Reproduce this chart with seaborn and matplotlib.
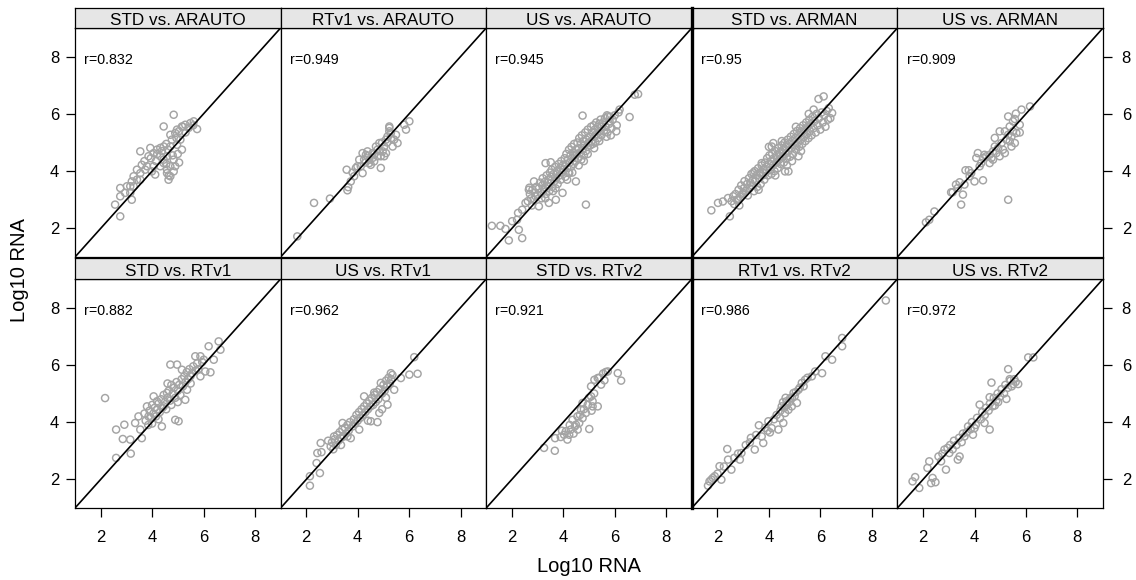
import numpy as np
import pandas as pd
import matplotlib
matplotlib.use("Agg")
import matplotlib.pyplot as plt
import seaborn as sns

sns.set_style("white")
plt.rcParams["font.family"] = ["Liberation Sans", "DejaVu Sans"]
plt.rcParams["text.color"] = "black"
plt.rcParams["xtick.color"] = "black"
plt.rcParams["ytick.color"] = "black"
plt.rcParams["xtick.labelcolor"] = "black"
plt.rcParams["ytick.labelcolor"] = "black"

# ---- data: (x, y) pairs of log10 RNA for each method comparison ----
STD_ARAUTO = [
    (4.84, 5.97), (4.45, 5.56), (5.29, 5.62), (5.49, 5.68), (5.62, 5.74), (5.75, 5.47),
    (5.42, 5.51), (5.16, 5.56), (4.97, 5.45), (4.90, 5.33), (4.71, 5.27), (4.77, 5.10),
    (5.10, 5.10), (4.97, 4.92), (5.16, 4.75), (4.71, 4.86), (4.45, 4.86), (4.32, 4.81),
    (4.19, 4.75), (4.06, 4.63), (3.93, 4.81), (3.86, 4.52), (3.54, 4.69), (4.32, 4.52),
    (4.45, 4.40), (4.58, 4.52), (4.84, 4.40), (4.90, 4.17), (4.71, 4.17), (4.45, 4.28),
    (4.58, 4.05), (4.84, 3.99), (4.71, 3.82), (4.58, 3.93), (4.64, 3.70), (4.32, 4.17),
    (4.06, 4.17), (3.99, 3.99), (4.12, 3.88), (3.80, 4.17), (3.73, 4.05), (3.60, 4.22),
    (3.54, 3.93), (3.41, 4.05), (3.41, 3.70), (3.54, 3.70), (3.28, 3.82), (3.21, 3.64),
    (3.15, 3.47), (3.28, 3.47), (3.02, 3.47), (2.76, 3.41), (2.95, 3.24), (2.76, 3.12),
    (3.15, 3.24), (3.21, 3.00), (2.56, 2.83), (2.76, 2.42), (4.20, 4.60), (4.38, 4.70),
    (4.55, 4.95), (4.62, 4.75), (4.95, 5.15), (5.05, 5.40), (5.30, 5.35), (3.70, 4.35),
    (3.95, 4.45), (4.15, 4.35), (5.00, 4.60), (4.80, 4.55), (4.55, 4.25), (5.20, 5.55),
    (5.60, 5.60), (4.65, 3.85), (5.05, 4.30),
]
RTV1_ARAUTO = [
    (1.65, 1.72), (2.30, 2.89), (2.92, 3.04), (3.60, 3.33), (3.63, 3.44), (3.73, 3.64),
    (3.57, 4.05), (3.93, 4.11), (3.86, 3.82), (4.12, 4.17), (4.19, 3.93), (4.25, 4.40),
    (4.32, 4.57), (4.38, 4.52), (4.45, 4.28), (4.51, 4.22), (4.64, 4.34), (4.58, 4.63),
    (4.71, 4.86), (4.77, 4.75), (4.84, 4.98), (4.90, 4.11), (4.90, 4.52), (4.97, 4.69),
    (5.03, 4.86), (5.10, 5.10), (5.16, 5.21), (5.23, 5.39), (5.23, 5.56), (5.29, 5.33),
    (5.36, 4.86), (5.42, 5.10), (5.49, 5.27), (5.55, 4.98), (5.10, 4.63), (5.03, 4.52),
    (4.77, 4.52), (4.58, 4.46), (4.38, 4.69), (4.19, 4.63), (4.06, 4.40), (3.99, 4.17),
    (5.81, 5.62), (5.88, 5.45), (6.01, 5.74), (5.23, 5.51), (4.45, 4.40), (4.65, 4.60),
    (4.85, 4.70), (5.30, 5.15), (5.15, 5.00), (4.30, 4.30), (3.80, 3.95), (4.95, 5.00),
]
US_ARAUTO = [
    (1.22, 2.09), (1.55, 2.09), (1.75, 1.98), (1.88, 1.58), (2.01, 2.25), (2.20, 2.30),
    (2.27, 1.95), (2.40, 1.66), (2.24, 2.54), (2.40, 2.65), (2.53, 2.89), (4.88, 2.83),
    (4.75, 5.94), (6.58, 5.89), (6.91, 6.69), (6.78, 6.67), (6.06, 5.39), (3.31, 4.28),
    (3.51, 4.31), (2.86, 3.64), (2.66, 3.35), (2.92, 3.12), (3.44, 2.89), (3.05, 2.77),
    (3.71, 3.00), (3.97, 3.24), (4.23, 3.93), (4.49, 3.64), (5.80, 5.74), (6.19, 6.15),
    (5.73, 5.91),
    (2.62, 2.95), (2.70, 3.20), (2.75, 3.05), (2.80, 3.35), (2.85, 3.00), (2.90, 3.25),
    (2.95, 3.45), (3.00, 3.15), (2.78, 2.80), (2.68, 3.42),
    (3.05, 3.40), (3.10, 3.60), (3.12, 3.25), (3.18, 3.50), (3.20, 3.75), (3.25, 3.35),
    (3.28, 3.62), (3.32, 3.20), (3.35, 3.85), (3.38, 3.48), (3.42, 3.70), (3.45, 3.30),
    (3.48, 3.95), (3.50, 3.58), (3.15, 3.05), (3.30, 3.05),
    (3.52, 3.80), (3.55, 4.05), (3.58, 3.45), (3.62, 3.90), (3.65, 3.65), (3.68, 4.15),
    (3.72, 3.75), (3.75, 4.00), (3.78, 3.55), (3.82, 4.25), (3.85, 3.85), (3.88, 4.10),
    (3.90, 3.70), (3.92, 4.35), (3.95, 3.95), (3.98, 4.20), (3.60, 3.30), (3.70, 3.40),
    (4.02, 4.05), (4.05, 4.45), (4.08, 3.80), (4.10, 4.25), (4.12, 4.60), (4.15, 4.10),
    (4.18, 4.40), (4.20, 3.95), (4.22, 4.75), (4.25, 4.30), (4.28, 4.55), (4.30, 4.15),
    (4.32, 4.85), (4.35, 4.45), (4.38, 4.65), (4.40, 4.25), (4.42, 4.95), (4.45, 4.55),
    (4.48, 4.35), (4.50, 4.75), (4.15, 3.70), (4.35, 3.95),
    (4.52, 4.60), (4.55, 5.00), (4.58, 4.45), (4.60, 4.80), (4.62, 5.15), (4.65, 4.65),
    (4.68, 4.95), (4.70, 4.40), (4.72, 5.25), (4.75, 4.75), (4.78, 5.05), (4.80, 4.55),
    (4.82, 4.90), (4.85, 5.35), (4.88, 4.70), (4.90, 5.10), (4.92, 4.85), (4.95, 5.45),
    (4.98, 5.00), (4.60, 4.20), (4.80, 4.35), (4.95, 4.60),
    (5.02, 5.20), (5.05, 4.90), (5.08, 5.55), (5.10, 5.05), (5.12, 5.35), (5.15, 4.95),
    (5.18, 5.60), (5.20, 5.20), (5.22, 5.45), (5.25, 5.00), (5.28, 5.70), (5.30, 5.30),
    (5.33, 5.55), (5.36, 5.15), (5.40, 5.65), (5.42, 5.40), (5.45, 5.80), (5.48, 5.25),
    (5.50, 5.55), (5.20, 4.80), (5.40, 5.05),
    (5.55, 5.70), (5.58, 5.40), (5.62, 5.85), (5.65, 5.55), (5.70, 5.95), (5.72, 5.35),
    (5.78, 5.65), (5.82, 5.90), (5.88, 5.50), (5.92, 5.80), (6.00, 5.95), (6.08, 5.60),
    (6.15, 6.05), (5.68, 5.20), (5.85, 5.25),
]
STD_ARMAN = [
    (1.76, 2.63), (2.02, 2.89), (2.21, 2.94), (2.48, 2.42), (2.41, 3.06), (2.61, 3.12),
    (2.80, 3.00), (3.00, 3.24), (5.93, 6.52), (6.13, 6.61), (6.33, 6.20), (6.46, 6.03),
    (6.39, 5.85), (5.74, 6.15), (4.17, 4.98), (4.11, 4.86), (4.76, 3.99), (4.63, 3.99),
    (5.15, 4.52), (3.72, 4.28), (3.65, 3.93),
    (2.65, 2.85), (2.70, 3.20), (2.75, 3.00), (2.82, 3.35), (2.88, 3.10), (2.92, 3.50),
    (2.98, 3.20), (3.02, 3.40), (3.05, 3.65), (3.10, 3.30), (3.15, 3.55), (3.18, 3.15),
    (2.55, 2.95), (2.85, 2.80),
    (3.22, 3.75), (3.25, 3.40), (3.28, 3.60), (3.32, 3.90), (3.35, 3.50), (3.38, 3.70),
    (3.42, 3.30), (3.45, 4.00), (3.48, 3.65), (3.52, 3.85), (3.55, 3.45), (3.58, 4.10),
    (3.62, 3.75), (3.65, 3.95), (3.68, 3.55), (3.72, 4.20), (3.75, 3.85), (3.78, 4.05),
    (3.40, 3.95), (3.60, 3.35),
    (3.82, 3.70), (3.85, 4.30), (3.88, 3.95), (3.90, 4.15), (3.93, 4.45), (3.96, 3.85),
    (4.00, 4.25), (4.02, 4.55), (4.05, 4.05), (4.08, 4.35), (4.10, 3.90), (4.13, 4.60),
    (4.16, 4.20), (4.19, 4.45), (4.22, 4.00), (4.25, 4.70), (4.28, 4.30), (4.31, 4.55),
    (4.34, 4.10), (4.37, 4.80), (4.40, 4.40), (4.00, 4.85), (4.25, 3.85),
    (4.43, 4.65), (4.46, 4.25), (4.49, 4.90), (4.52, 4.50), (4.55, 4.75), (4.58, 4.30),
    (4.61, 5.00), (4.64, 4.60), (4.67, 4.85), (4.70, 4.45), (4.73, 5.10), (4.76, 4.70),
    (4.79, 4.95), (4.82, 4.50), (4.85, 5.20), (4.88, 4.80), (4.91, 5.05), (4.94, 4.60),
    (4.97, 5.30), (4.50, 5.05), (4.70, 4.20), (4.90, 4.35),
    (5.00, 4.90), (5.03, 5.15), (5.06, 4.75), (5.09, 5.40), (5.12, 5.00), (5.15, 5.25),
    (5.18, 4.85), (5.21, 5.50), (5.24, 5.10), (5.27, 5.35), (5.30, 4.95), (5.33, 5.60),
    (5.36, 5.20), (5.39, 5.45), (5.42, 5.05), (5.45, 5.70), (5.48, 5.30), (5.51, 5.55),
    (5.54, 5.15), (5.57, 5.80), (5.25, 4.70), (5.05, 5.55),
    (5.60, 5.40), (5.63, 5.65), (5.66, 5.25), (5.70, 5.90), (5.74, 5.50), (5.78, 5.75),
    (5.82, 5.35), (5.86, 6.00), (5.90, 5.60), (5.95, 5.85), (6.00, 5.45), (6.05, 6.05),
    (6.10, 5.70), (6.15, 5.95), (6.20, 5.55), (6.25, 6.10), (6.30, 5.80), (5.55, 6.00),
]
US_ARMAN = [
    (2.11, 2.21), (2.24, 2.30), (2.44, 2.59), (3.15, 3.26), (3.28, 3.53), (3.48, 2.83),
    (3.55, 3.18), (3.42, 3.61), (3.65, 4.03), (3.78, 4.03), (4.00, 3.64), (4.33, 3.68),
    (4.07, 4.46), (5.31, 3.00), (5.31, 5.91), (5.61, 6.01), (5.83, 6.15), (6.16, 6.26),
    (5.76, 5.62), (5.76, 5.35), (5.57, 5.82), (4.33, 4.46), (4.46, 4.52), (4.59, 4.57),
    (4.59, 4.28), (4.72, 4.69), (4.79, 4.86), (4.92, 4.81), (5.05, 4.98), (5.11, 4.75),
    (5.18, 4.63), (5.24, 5.10), (5.37, 5.04), (5.44, 5.21), (4.79, 5.16), (4.98, 5.39),
    (5.18, 5.39), (5.31, 5.27), (5.50, 5.39), (5.63, 5.33), (4.66, 4.46), (4.39, 4.57),
    (4.26, 4.28), (4.13, 4.63), (4.20, 4.17), (3.81, 3.82), (3.87, 3.93), (3.61, 3.53),
    (3.09, 3.26), (3.35, 3.41), (4.85, 4.63), (4.98, 4.52), (4.72, 4.40), (5.44, 4.86),
    (5.57, 4.98), (5.37, 5.56), (5.50, 5.74),
]
STD_RTV1 = [
    (2.17, 4.84), (2.60, 2.75), (2.60, 3.74), (2.92, 3.91), (2.86, 3.41), (3.15, 3.39),
    (3.17, 2.90), (3.34, 3.97), (3.60, 3.44), (3.54, 3.74), (3.47, 4.20), (3.80, 4.55),
    (3.86, 4.20), (4.06, 4.90), (4.19, 4.73), (4.38, 3.85), (4.45, 4.55), (4.58, 5.02),
    (4.71, 6.01), (4.97, 6.01), (4.90, 4.08), (5.03, 4.03), (5.29, 4.78), (5.36, 5.13),
    (5.16, 5.83), (5.49, 5.60), (5.68, 6.30), (5.88, 5.60), (6.07, 5.77), (6.27, 5.74),
    (6.20, 6.65), (6.59, 6.82), (6.66, 6.53), (6.40, 6.18), (5.88, 6.30), (6.01, 6.18),
    (3.70, 4.30), (3.75, 4.05), (3.90, 4.40), (3.95, 4.15), (4.00, 4.60), (4.05, 4.30),
    (4.10, 4.50), (4.15, 4.20), (4.20, 4.45), (4.25, 4.65), (4.30, 4.35), (4.35, 4.80),
    (4.40, 4.50), (4.45, 4.95), (4.50, 4.70), (4.55, 4.45), (4.60, 4.85), (4.65, 5.10),
    (4.70, 4.75), (4.75, 5.30), (4.80, 5.00), (4.85, 5.20), (4.90, 4.85), (4.95, 5.40),
    (5.00, 5.10), (5.05, 5.30), (5.10, 4.95), (5.15, 5.50), (5.20, 5.25), (5.25, 5.60),
    (5.30, 5.40), (5.35, 5.75), (5.40, 5.50), (5.45, 5.85), (5.50, 5.35), (5.55, 5.70),
    (5.60, 5.95), (5.70, 5.80), (5.75, 6.05), (5.80, 5.85), (5.95, 6.10), (4.00, 3.95),
    (3.85, 3.90), (4.75, 4.60), (5.00, 4.70), (4.60, 5.35), (4.25, 4.10),
]
US_RTV1 = [
    (2.14, 1.78), (2.14, 2.11), (2.53, 2.22), (2.40, 2.57), (2.43, 2.92), (2.56, 3.27),
    (2.59, 2.95), (2.95, 3.15), (3.08, 3.50), (3.41, 3.97), (3.73, 3.44), (4.06, 3.74),
    (4.51, 4.03), (4.77, 4.00), (4.84, 4.32), (5.16, 4.61), (5.10, 4.85), (4.64, 5.03),
    (4.90, 5.37), (5.29, 5.71), (5.68, 5.54), (6.01, 5.66), (6.33, 5.69), (6.20, 6.27),
    (5.42, 5.13), (3.00, 3.30), (3.05, 3.05), (3.10, 3.40), (3.15, 3.20), (3.20, 3.55),
    (3.25, 3.35), (3.30, 3.65), (3.35, 3.45), (3.40, 3.75), (3.45, 3.50), (3.50, 3.80),
    (3.55, 3.60), (3.60, 3.90), (3.65, 3.70), (3.70, 4.00), (3.80, 3.85), (3.85, 4.10),
    (3.90, 3.95), (3.95, 4.25), (4.00, 4.05), (4.05, 4.35), (4.10, 4.15), (4.15, 4.45),
    (4.20, 4.25), (4.25, 4.55), (4.30, 4.35), (4.35, 4.65), (4.40, 4.45), (4.45, 4.75),
    (4.50, 4.55), (4.55, 4.85), (4.60, 4.60), (4.65, 4.95), (4.70, 4.70), (4.75, 5.05),
    (4.80, 4.80), (4.85, 5.15), (4.95, 5.00), (5.00, 5.30), (5.05, 5.10), (5.10, 5.45),
    (5.15, 5.25), (5.20, 5.55), (5.25, 5.35), (5.30, 5.50), (5.35, 5.65), (4.40, 4.05),
    (3.35, 3.20), (2.85, 3.35), (3.60, 3.50), (4.25, 4.90), (4.95, 4.45),
]
STD_RTV2 = [
    (3.25, 3.10), (3.67, 3.00), (3.68, 3.44), (3.90, 3.48), (4.10, 3.68), (4.16, 3.39),
    (4.03, 3.56), (4.29, 3.74), (4.36, 4.08), (4.49, 3.91), (4.62, 3.97), (4.75, 4.14),
    (4.88, 4.32), (5.01, 3.76), (4.69, 4.43), (4.75, 4.67), (5.08, 4.90), (5.14, 4.73),
    (5.08, 5.25), (5.21, 5.48), (5.34, 5.54), (5.47, 5.31), (5.60, 5.46), (5.73, 5.77),
    (6.12, 5.71), (6.25, 5.45), (5.34, 4.55), (4.56, 3.74), (4.23, 3.56), (5.14, 4.55),
    (4.40, 3.60), (4.55, 4.20), (4.80, 4.45), (4.95, 4.60), (5.00, 4.85), (4.65, 4.25),
    (5.20, 5.00), (5.40, 5.55), (5.55, 5.70), (5.65, 5.75), (4.25, 3.90), (3.95, 3.70),
    (4.45, 3.85), (5.10, 4.40),
]
RTV1_RTV2 = [
    (1.63, 1.78), (1.69, 1.93), (1.76, 1.99), (1.82, 2.05), (1.89, 2.11), (2.15, 1.99),
    (2.08, 2.46), (2.38, 3.06), (2.41, 2.69), (2.54, 2.34), (2.80, 2.90), (2.87, 2.69),
    (2.93, 2.92), (3.26, 3.29), (3.45, 3.04), (3.61, 3.89), (3.72, 3.50), (3.78, 3.27),
    (3.98, 4.03), (4.04, 3.64), (4.11, 3.79), (4.37, 3.74), (4.43, 4.14), (4.50, 4.55),
    (4.56, 3.97), (4.63, 4.32), (4.69, 4.73), (4.76, 4.43), (4.83, 4.84), (4.89, 4.55),
    (4.96, 5.02), (5.09, 4.67), (5.15, 5.13), (5.28, 5.37), (5.41, 5.48), (5.67, 5.60),
    (5.80, 5.77), (6.07, 5.71), (6.20, 6.30), (6.46, 6.18), (6.85, 6.94), (6.85, 6.65),
    (8.55, 8.25), (2.00, 2.20), (2.25, 2.45), (2.65, 2.75), (3.10, 3.20), (3.30, 3.45),
    (3.50, 3.55), (3.85, 3.80), (3.95, 3.70), (4.20, 4.10), (4.30, 4.25), (4.45, 4.40),
    (4.60, 4.50), (4.70, 4.60), (4.80, 4.70), (4.90, 4.85), (5.00, 4.90), (5.05, 5.05),
    (5.20, 5.20), (5.35, 5.25), (4.55, 4.70), (4.65, 4.85), (5.50, 5.55),
]
US_RTV2 = [
    (1.59, 1.93), (1.69, 2.08), (1.85, 1.70), (2.31, 1.87), (2.48, 1.90), (2.37, 2.05),
    (2.17, 2.40), (2.24, 2.63), (2.70, 2.63), (2.83, 3.04), (2.89, 2.34), (3.02, 2.92),
    (3.35, 2.69), (3.42, 2.80), (3.61, 3.50), (3.94, 3.56), (4.00, 3.79), (4.20, 4.61),
    (4.39, 3.97), (4.59, 3.74), (4.66, 5.38), (4.59, 4.87), (4.79, 4.58), (4.92, 4.70),
    (5.24, 4.81), (5.31, 5.85), (5.37, 5.50), (5.50, 5.33), (5.70, 5.33), (6.09, 6.26),
    (6.29, 6.26), (2.60, 2.80), (2.75, 2.90), (2.95, 3.10), (3.05, 3.20), (3.15, 3.05),
    (3.20, 3.35), (3.30, 3.20), (3.40, 3.45), (3.50, 3.30), (3.55, 3.60), (3.70, 3.65),
    (3.75, 3.85), (3.85, 3.75), (3.90, 4.00), (4.05, 3.90), (4.10, 4.15), (4.25, 4.10),
    (4.30, 4.35), (4.40, 4.25), (4.45, 4.50), (4.55, 4.40), (4.60, 4.65), (4.70, 4.55),
    (4.75, 4.85), (4.85, 4.75), (4.90, 5.00), (5.00, 4.90), (5.05, 5.15), (5.15, 5.00),
    (5.20, 5.30), (5.30, 5.20), (5.40, 5.45), (5.45, 5.25), (5.55, 5.50), (5.60, 5.40),
]

PANEL_TITLES = [
    "STD vs. ARAUTO", "RTv1 vs. ARAUTO", "US vs. ARAUTO", "STD vs. ARMAN", "US vs. ARMAN",
    "STD vs. RTv1", "US vs. RTv1", "STD vs. RTv2", "RTv1 vs. RTv2", "US vs. RTv2",
]
PANEL_DATA = [
    STD_ARAUTO, RTV1_ARAUTO, US_ARAUTO, STD_ARMAN, US_ARMAN,
    STD_RTV1, US_RTV1, STD_RTV2, RTV1_RTV2, US_RTV2,
]
R_VALUES = ["0.832", "0.949", "0.945", "0.95", "0.909",
            "0.882", "0.962", "0.921", "0.986", "0.972"]
AXIS_LIMITS = (1, 9)
TICKS = [2, 4, 6, 8]
AXIS_LABEL = "Log10 RNA"

# ---- figure layout (pixel geometry of the 2 x 5 lattice) ----
W, H = 1136, 580
fig = plt.figure(figsize=(W / 100, H / 100), dpi=100)
fig.patch.set_facecolor("white")


def box(x0, y0, x1, y1):
    """Figure-fraction rectangle from pixel edges measured from the top-left."""
    return [x0 / W, 1 - y1 / H, (x1 - x0) / W, (y1 - y0) / H]


col_edges = np.linspace(75, 1103, 6)
rows = [  # (strip top, strip bottom/panel top, panel bottom)
    (8, 28, 257),
    (258, 279, 508),
]
POINT_COLOR = "#a4a4a4"
STRIP_COLOR = "#e6e6e6"
LW = 0.9

for i, (title, pairs, r) in enumerate(zip(PANEL_TITLES, PANEL_DATA, R_VALUES)):
    row, col = divmod(i, 5)
    x0, x1 = col_edges[col], col_edges[col + 1]
    s_top, p_top, p_bot = rows[row]

    df = pd.DataFrame(pairs, columns=["x", "y"])
    ax = fig.add_axes(box(x0, p_top, x1, p_bot))
    sns.scatterplot(data=df, x="x", y="y", ax=ax, marker="o", s=26,
                    facecolor="none", edgecolor=POINT_COLOR, color=POINT_COLOR,
                    linewidth=1.05, legend=False, zorder=2)
    ax.axline((AXIS_LIMITS[0], AXIS_LIMITS[0]), slope=1, color="black",
              lw=1.2, zorder=3)
    ax.set_xlim(*AXIS_LIMITS)
    ax.set_ylim(*AXIS_LIMITS)
    ax.set_xlabel("")
    ax.set_ylabel("")
    ax.set_xticks(TICKS)
    ax.set_yticks(TICKS)
    ax.text(0.045, 0.862, f"r={r}", transform=ax.transAxes, fontsize=10.3,
            ha="left", va="center", color="black")

    for sp in ax.spines.values():
        sp.set_visible(True)
        sp.set_color("black")
        sp.set_linewidth(LW)

    # outer axes only: x on bottom row, y on the outer columns
    ax.tick_params(axis="both", direction="out", length=6.5, width=LW,
                   color="black", labelcolor="black", labelsize=12)
    ax.tick_params(axis="x", bottom=(row == 1), labelbottom=(row == 1),
                   top=False, labeltop=False, pad=9)
    if col == 0:
        ax.tick_params(axis="y", left=True, labelleft=True, right=False,
                       labelright=False, pad=5)
    elif col == 4:
        ax.tick_params(axis="y", left=False, labelleft=False, right=True,
                       labelright=True, pad=7)
    else:
        ax.tick_params(axis="y", left=False, labelleft=False, right=False,
                       labelright=False)

    # strip header
    sax = fig.add_axes(box(x0, s_top, x1, p_top))
    sax.set_facecolor(STRIP_COLOR)
    sax.set_xticks([])
    sax.set_yticks([])
    for sp in sax.spines.values():
        sp.set_color("black")
        sp.set_linewidth(LW)
    sax.text(0.5, 0.38, title, transform=sax.transAxes, fontsize=12.3,
             ha="center", va="center", color="black")

    if col == 3:
        ax.spines["left"].set_linewidth(2.4)
        sax.spines["left"].set_linewidth(2.4)

fig.text(589 / W, 1 - 566 / H, AXIS_LABEL, fontsize=14.5, ha="center",
         va="center", color="black")
fig.text(20 / W, 1 - 270 / H, AXIS_LABEL, fontsize=14.5, ha="center",
         va="center", rotation=90, color="black")

fig.savefig("out.png", dpi=100, facecolor="white")
